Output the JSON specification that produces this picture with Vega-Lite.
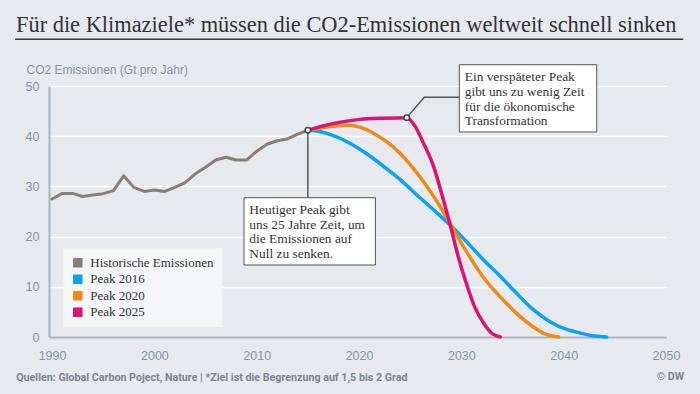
{
  "$schema": "https://vega.github.io/schema/vega-lite/v6.json",
  "width": 617,
  "height": 251,
  "autosize": {"type": "none"},
  "padding": {"left": 49, "top": 86, "right": 34, "bottom": 57},
  "background": "#e6e9ed",
  "title": {
    "text": "Für die Klimaziele* müssen die CO2-Emissionen weltweit schnell sinken",
    "anchor": "start",
    "frame": "group",
    "dx": -33,
    "dy": 24,
    "offset": 8,
    "baseline": "alphabetic",
    "font": "Liberation Serif",
    "fontSize": 22.4,
    "fontWeight": "normal",
    "color": "#333333"
  },
  "datasets": {
    "emissions": [
      {"series": "Historische Emissionen", "year": 1990, "value": 27.5},
      {"series": "Historische Emissionen", "year": 1991, "value": 28.6},
      {"series": "Historische Emissionen", "year": 1992, "value": 28.6},
      {"series": "Historische Emissionen", "year": 1993, "value": 28.0},
      {"series": "Historische Emissionen", "year": 1994, "value": 28.3},
      {"series": "Historische Emissionen", "year": 1995, "value": 28.55},
      {"series": "Historische Emissionen", "year": 1996, "value": 29.15},
      {"series": "Historische Emissionen", "year": 1997, "value": 32.1},
      {"series": "Historische Emissionen", "year": 1998, "value": 29.8},
      {"series": "Historische Emissionen", "year": 1999, "value": 29.0},
      {"series": "Historische Emissionen", "year": 2000, "value": 29.3},
      {"series": "Historische Emissionen", "year": 2001, "value": 29.0},
      {"series": "Historische Emissionen", "year": 2002, "value": 29.8},
      {"series": "Historische Emissionen", "year": 2003, "value": 30.75},
      {"series": "Historische Emissionen", "year": 2004, "value": 32.5},
      {"series": "Historische Emissionen", "year": 2005, "value": 33.8},
      {"series": "Historische Emissionen", "year": 2006, "value": 35.25},
      {"series": "Historische Emissionen", "year": 2007, "value": 35.8},
      {"series": "Historische Emissionen", "year": 2008, "value": 35.25},
      {"series": "Historische Emissionen", "year": 2009, "value": 35.25},
      {"series": "Historische Emissionen", "year": 2010, "value": 37.0},
      {"series": "Historische Emissionen", "year": 2011, "value": 38.4},
      {"series": "Historische Emissionen", "year": 2012, "value": 39.1},
      {"series": "Historische Emissionen", "year": 2013, "value": 39.45},
      {"series": "Historische Emissionen", "year": 2014, "value": 40.4},
      {"series": "Historische Emissionen", "year": 2015, "value": 41.17},

      {"series": "Peak 2016", "year": 2015, "value": 41.17},
      {"series": "Peak 2016", "year": 2016.2, "value": 40.9},
      {"series": "Peak 2016", "year": 2017.5, "value": 40.1},
      {"series": "Peak 2016", "year": 2019.1, "value": 38.6},
      {"series": "Peak 2016", "year": 2020.75, "value": 36.5},
      {"series": "Peak 2016", "year": 2022.4, "value": 34.0},
      {"series": "Peak 2016", "year": 2024.0, "value": 31.4},
      {"series": "Peak 2016", "year": 2025.6, "value": 28.4},
      {"series": "Peak 2016", "year": 2027.3, "value": 25.3},
      {"series": "Peak 2016", "year": 2028.9, "value": 22.3},
      {"series": "Peak 2016", "year": 2030.5, "value": 19.0},
      {"series": "Peak 2016", "year": 2032.1, "value": 15.5},
      {"series": "Peak 2016", "year": 2033.8, "value": 12.1},
      {"series": "Peak 2016", "year": 2035.4, "value": 8.7},
      {"series": "Peak 2016", "year": 2037.0, "value": 5.5},
      {"series": "Peak 2016", "year": 2038.7, "value": 3.0},
      {"series": "Peak 2016", "year": 2040.3, "value": 1.5},
      {"series": "Peak 2016", "year": 2041.6, "value": 0.8},
      {"series": "Peak 2016", "year": 2043.0, "value": 0.2},
      {"series": "Peak 2016", "year": 2044.2, "value": 0},

      {"series": "Peak 2020", "year": 2015, "value": 41.17},
      {"series": "Peak 2020", "year": 2016.2, "value": 41.6},
      {"series": "Peak 2020", "year": 2017.5, "value": 42.0},
      {"series": "Peak 2020", "year": 2018.8, "value": 42.2},
      {"series": "Peak 2020", "year": 2020.1, "value": 41.8},
      {"series": "Peak 2020", "year": 2021.4, "value": 40.6},
      {"series": "Peak 2020", "year": 2022.7, "value": 38.9},
      {"series": "Peak 2020", "year": 2024.0, "value": 36.6},
      {"series": "Peak 2020", "year": 2025.3, "value": 33.6},
      {"series": "Peak 2020", "year": 2026.6, "value": 30.1},
      {"series": "Peak 2020", "year": 2027.9, "value": 26.1},
      {"series": "Peak 2020", "year": 2028.9, "value": 22.6},
      {"series": "Peak 2020", "year": 2030.5, "value": 17.0},
      {"series": "Peak 2020", "year": 2032.1, "value": 12.0},
      {"series": "Peak 2020", "year": 2033.8, "value": 8.0},
      {"series": "Peak 2020", "year": 2035.4, "value": 4.7},
      {"series": "Peak 2020", "year": 2037.0, "value": 2.05},
      {"series": "Peak 2020", "year": 2038.3, "value": 0.5},
      {"series": "Peak 2020", "year": 2039.5, "value": 0},

      {"series": "Peak 2025", "year": 2015, "value": 41.17},
      {"series": "Peak 2025", "year": 2016.2, "value": 41.9},
      {"series": "Peak 2025", "year": 2018.2, "value": 42.8},
      {"series": "Peak 2025", "year": 2020.1, "value": 43.35},
      {"series": "Peak 2025", "year": 2022.4, "value": 43.6},
      {"series": "Peak 2025", "year": 2024.66, "value": 43.7},
      {"series": "Peak 2025", "year": 2025.5, "value": 41.9},
      {"series": "Peak 2025", "year": 2026.3, "value": 38.6},
      {"series": "Peak 2025", "year": 2027.3, "value": 33.9},
      {"series": "Peak 2025", "year": 2028.1, "value": 28.4},
      {"series": "Peak 2025", "year": 2028.9, "value": 22.4},
      {"series": "Peak 2025", "year": 2029.7, "value": 16.0},
      {"series": "Peak 2025", "year": 2030.5, "value": 10.6},
      {"series": "Peak 2025", "year": 2031.3, "value": 6.0},
      {"series": "Peak 2025", "year": 2032.2, "value": 2.7},
      {"series": "Peak 2025", "year": 2033.0, "value": 0.7},
      {"series": "Peak 2025", "year": 2033.8, "value": 0}
    ],
    "peaks": [
      {"year": 2015, "value": 41.17},
      {"year": 2024.66, "value": 43.7}
    ],
    "connector": [
      {"year": 2024.66, "value": 43.7},
      {"year": 2026.38, "value": 47.75},
      {"year": 2029.8, "value": 47.75}
    ]
  },
  "layer": [
    {
      "data": {"values": [{}]},
      "mark": {"type": "rule", "color": "#3a3a3a", "strokeWidth": 1.5},
      "encoding": {
        "x": {"datum": 1986.38, "type": "quantitative"},
        "x2": {"datum": 2051.69},
        "y": {"datum": 59.3, "type": "quantitative"}
      }
    },
    {
      "data": {"name": "emissions"},
      "transform": [{"filter": "datum.series === 'Historische Emissionen'"}],
      "mark": {"type": "line", "strokeWidth": 3, "strokeJoin": "round", "strokeCap": "round"},
      "encoding": {
        "x": {
          "field": "year", "type": "quantitative",
          "scale": {"domain": [1989.7, 2050], "nice": false, "zero": false},
          "axis": {
            "values": [1990, 2000, 2010, 2020, 2030, 2040, 2050],
            "format": "d",
            "ticks": false,
            "tickSize": 0,
            "grid": false,
            "domainColor": "#a9b4be",
            "domainWidth": 2,
            "labelFont": "Liberation Sans",
            "labelFontSize": 12.5,
            "labelColor": "#8694a3",
            "labelPadding": 12.5,
            "labelFlush": false,
            "labelOverlap": false,
            "title": "Quellen:  Global Carbon Poject, Nature | *Ziel ist die Begrenzung auf 1,5 bis 2 Grad",
            "titleX": -33.3,
            "titleY": 43,
            "titleAlign": "left",
            "titleAnchor": "start",
            "titleBaseline": "alphabetic",
            "titleFont": "Roboto",
            "titleFontWeight": "bold",
            "titleFontSize": 10.7,
            "titleColor": "#7b8591"
          }
        },
        "y": {
          "field": "value", "type": "quantitative",
          "scale": {"domain": [0, 50], "nice": false, "zero": false},
          "axis": {
            "values": [0, 10, 20, 30, 40, 50],
            "ticks": false,
            "tickSize": 0,
            "grid": true,
            "gridColor": "#ffffff",
            "gridWidth": 1.3,
            "domainColor": "#a9b4be",
            "domainWidth": 2,
            "labelFont": "Liberation Sans",
            "labelFontSize": 12.5,
            "labelColor": "#8694a3",
            "labelPadding": 10,
            "title": "CO2 Emissionen (Gt pro Jahr)",
            "titleAngle": 0,
            "titleX": -23,
            "titleY": -12.5,
            "titleAlign": "left",
            "titleAnchor": "start",
            "titleBaseline": "alphabetic",
            "titleFont": "Liberation Sans",
            "titleFontWeight": "normal",
            "titleFontSize": 12,
            "titleColor": "#8694a3"
          }
        },
        "color": {
          "field": "series", "type": "nominal",
          "scale": {
            "domain": ["Historische Emissionen", "Peak 2016", "Peak 2020", "Peak 2025"],
            "range": ["#8b7e72", "#0aa2f2", "#ef8a17", "#de1270"]
          },
          "legend": {
            "title": null,
            "orient": "none",
            "legendX": 14.3,
            "legendY": 162.3,
            "fillColor": "#f5f6f8",
            "padding": 8,
            "symbolType": "square",
            "symbolSize": 64,
            "symbolStrokeWidth": 1.5,
            "labelFont": "Liberation Serif",
            "labelFontSize": 13,
            "labelColor": "#333333",
            "labelOffset": 6,
            "rowPadding": 1.5,
            "encode": {
              "symbols": {
                "update": {
                  "fill": {"scale": "color", "field": "value"},
                  "fillOpacity": {"value": 1}
                }
              }
            }
          }
        }
      }
    },
    {
      "data": {"name": "emissions"},
      "transform": [{"filter": "datum.series !== 'Historische Emissionen'"}],
      "mark": {"type": "line", "strokeWidth": 3.5, "interpolate": "monotone", "strokeCap": "round"},
      "encoding": {
        "x": {"field": "year", "type": "quantitative"},
        "y": {"field": "value", "type": "quantitative"},
        "color": {"field": "series", "type": "nominal"}
      }
    },
    {
      "data": {"values": [{}]},
      "mark": {"type": "rule", "color": "#555555", "strokeWidth": 1.5},
      "encoding": {
        "x": {"datum": 2015, "type": "quantitative"},
        "y": {"datum": 41.17, "type": "quantitative"},
        "y2": {"datum": 27.75}
      }
    },
    {
      "data": {"name": "connector"},
      "mark": {"type": "line", "color": "#555555", "strokeWidth": 1.5},
      "encoding": {
        "x": {"field": "year", "type": "quantitative"},
        "y": {"field": "value", "type": "quantitative"}
      }
    },
    {
      "data": {"values": [{}]},
      "mark": {"type": "rect", "fill": "#ffffff", "stroke": "#555555", "strokeWidth": 1},
      "encoding": {
        "x": {"datum": 2008.76, "type": "quantitative"},
        "x2": {"datum": 2021.6},
        "y": {"datum": 27.75, "type": "quantitative"},
        "y2": {"datum": 14.34}
      }
    },
    {
      "data": {"values": [{}]},
      "mark": {"type": "rect", "fill": "#ffffff", "stroke": "#555555", "strokeWidth": 1},
      "encoding": {
        "x": {"datum": 2029.8, "type": "quantitative"},
        "x2": {"datum": 2043.23},
        "y": {"datum": 54.24, "type": "quantitative"},
        "y2": {"datum": 40.84}
      }
    },
    {
      "data": {"values": [{}]},
      "mark": {
        "type": "text",
        "text": ["Heutiger Peak gibt", "uns 25 Jahre Zeit, um", "die Emissionen auf", "Null zu senken."],
        "align": "left",
        "baseline": "top",
        "lineHeight": 14.6,
        "font": "Liberation Serif",
        "fontSize": 13.4,
        "color": "#333333"
      },
      "encoding": {
        "x": {"datum": 2009.28, "type": "quantitative"},
        "y": {"datum": 26.69, "type": "quantitative"}
      }
    },
    {
      "data": {"values": [{}]},
      "mark": {
        "type": "text",
        "text": ["Ein verspäteter Peak", "gibt uns zu wenig Zeit", "für die ökonomische", "Transformation"],
        "align": "left",
        "baseline": "top",
        "lineHeight": 14.8,
        "font": "Liberation Serif",
        "fontSize": 13.4,
        "color": "#333333"
      },
      "encoding": {
        "x": {"datum": 2030.33, "type": "quantitative"},
        "y": {"datum": 53.19, "type": "quantitative"}
      }
    },
    {
      "data": {"name": "peaks"},
      "mark": {"type": "point", "filled": true, "fill": "#ffffff", "stroke": "#444444", "strokeWidth": 1.5, "size": 30, "opacity": 1},
      "encoding": {
        "x": {"field": "year", "type": "quantitative"},
        "y": {"field": "value", "type": "quantitative"}
      }
    },
    {
      "data": {"values": [{}]},
      "mark": {
        "type": "text",
        "text": "© DW",
        "align": "right",
        "baseline": "alphabetic",
        "font": "Roboto",
        "fontWeight": "bold",
        "fontSize": 10.7,
        "color": "#7b8591"
      },
      "encoding": {
        "x": {"datum": 2051.76, "type": "quantitative"},
        "y": {"datum": -8.57, "type": "quantitative"}
      }
    }
  ],
  "config": {
    "view": {"stroke": null},
    "legend": {"cornerRadius": 0}
  }
}
